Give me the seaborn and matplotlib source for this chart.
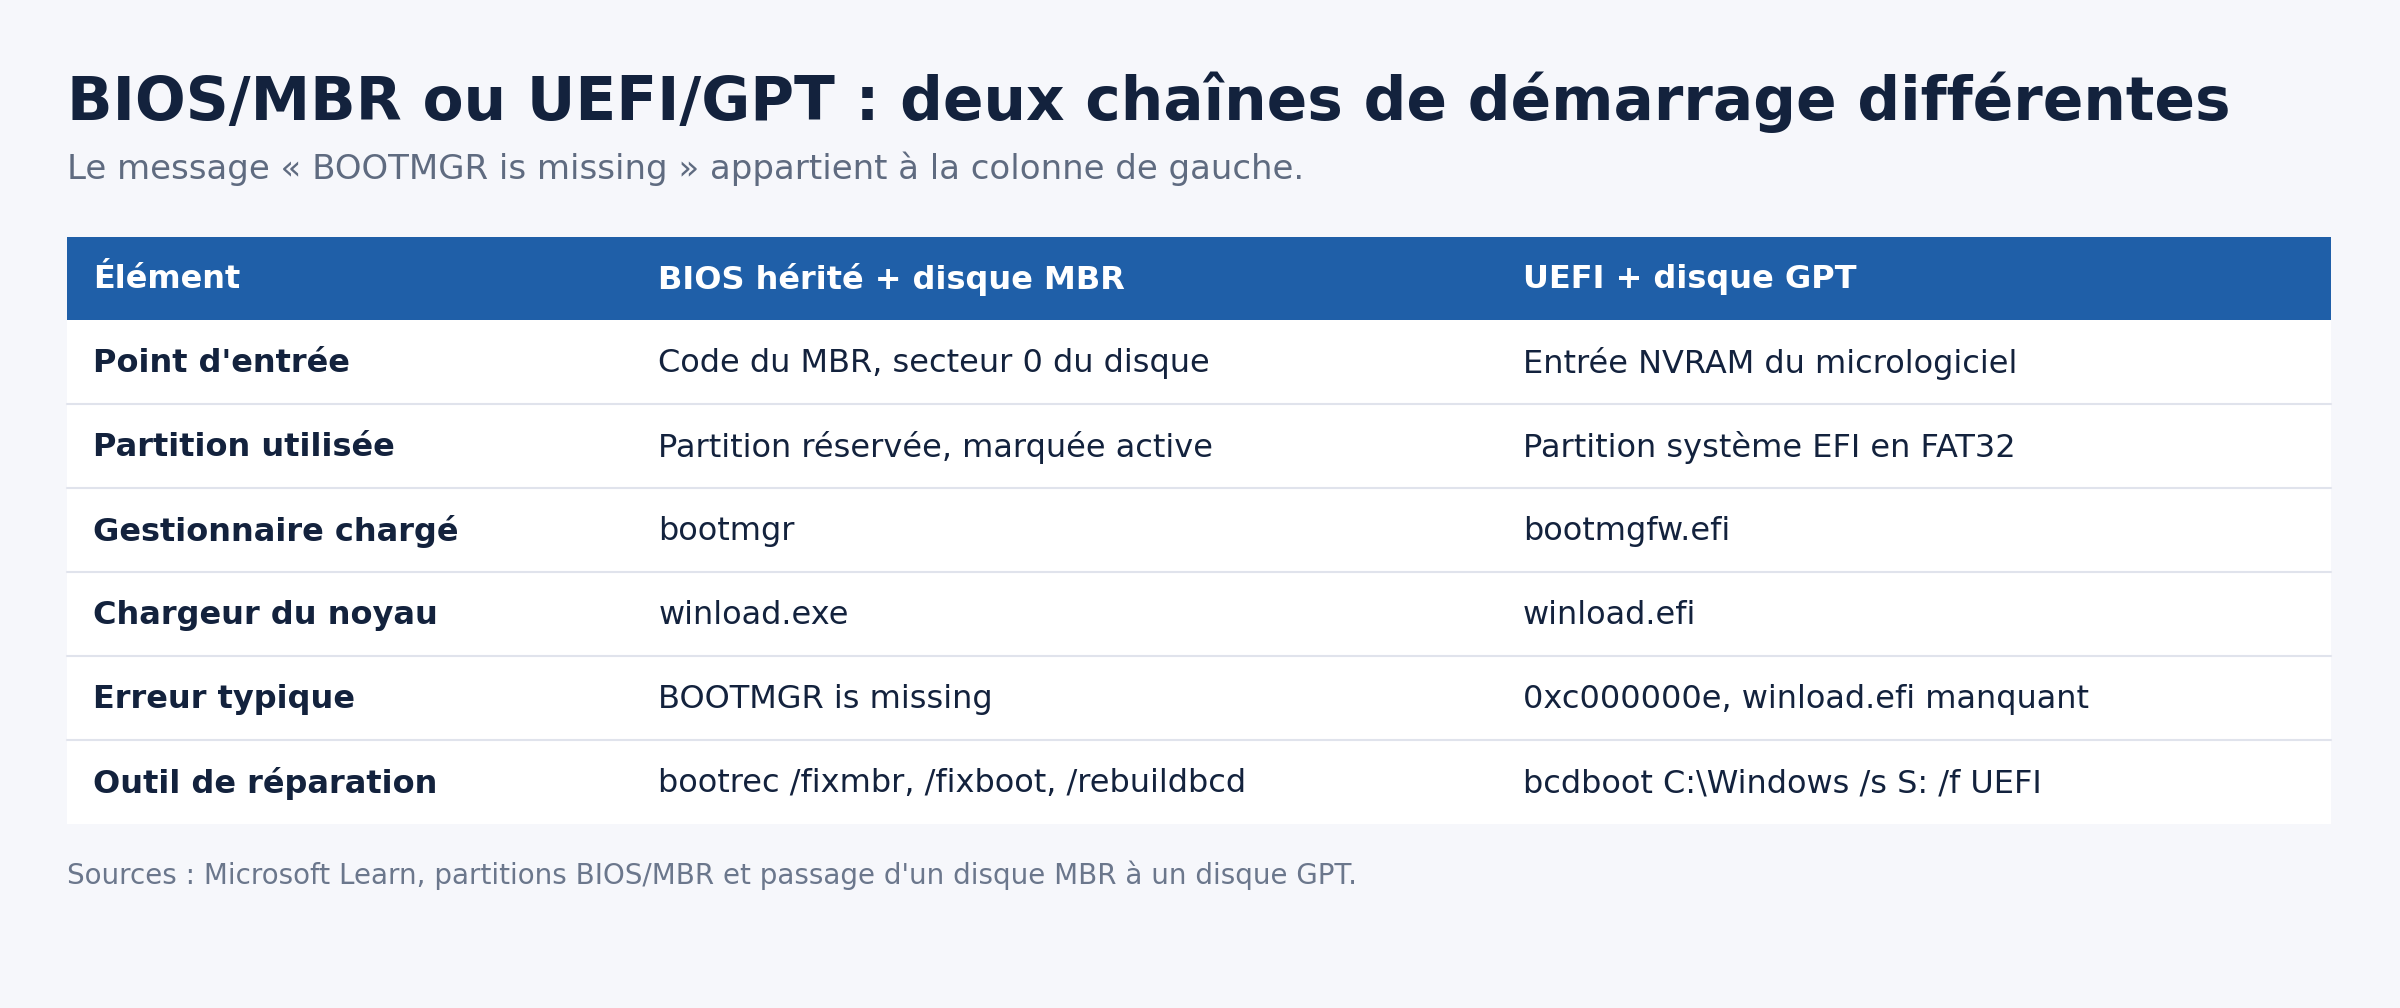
import matplotlib
matplotlib.use("Agg")
import matplotlib.pyplot as plt
import seaborn as sns
from matplotlib.patches import Rectangle

# --- data ---
title = "BIOS/MBR ou UEFI/GPT : deux chaînes de démarrage différentes"
subtitle = "Le message « BOOTMGR is missing » appartient à la colonne de gauche."
source = "Sources : Microsoft Learn, partitions BIOS/MBR et passage d'un disque MBR à un disque GPT."
headers = ["Élément", "BIOS hérité + disque MBR", "UEFI + disque GPT"]
elements = ["Point d'entrée", "Partition utilisée", "Gestionnaire chargé",
            "Chargeur du noyau", "Erreur typique", "Outil de réparation"]
bios_mbr = ["Code du MBR, secteur 0 du disque", "Partition réservée, marquée active",
            "bootmgr", "winload.exe", "BOOTMGR is missing",
            "bootrec /fixmbr, /fixboot, /rebuildbcd"]
uefi_gpt = ["Entrée NVRAM du micrologiciel", "Partition système EFI en FAT32",
            "bootmgfw.efi", "winload.efi", "0xc000000e, winload.efi manquant",
            "bcdboot C:\\Windows /s S: /f UEFI"]

sns.set_theme(style="white")
plt.rcParams['font.family'] = ['DejaVu Sans']

bg = "#f6f7fb"
dark = "#13223d"
grey = "#5f6b80"
blue = "#1f5fa8"

fig = plt.figure(figsize=(24, 10.08), dpi=100, facecolor=bg)
ax = fig.add_axes([0, 0, 1, 1])
ax.set_xlim(0, 1568)
ax.set_ylim(659, 0)
ax.axis("off")

ax.text(44, 67, title, fontsize=43, fontweight="bold", color=dark, va="center")
ax.text(44, 110, subtitle, fontsize=24.5, color=grey, va="center")

left, right = 44, 1523
top, head_h, row_h = 155, 54, 55
col_x = [61, 430, 995]

ax.add_patch(Rectangle((left, top), right - left, head_h, color=blue, lw=0))
for x, h in zip(col_x, headers):
    ax.text(x, top + head_h / 2 + 1, h, fontsize=23, fontweight="bold", color="white", va="center")

for i, (e, b, u) in enumerate(zip(elements, bios_mbr, uefi_gpt)):
    y0 = top + head_h + i * row_h
    ax.add_patch(Rectangle((left, y0), right - left, row_h, color="white", lw=0))
    if i > 0:
        ax.plot([left, right], [y0, y0], color="#e0e3ec", lw=1.5)
    yc = y0 + row_h / 2 + 1
    ax.text(col_x[0], yc, e, fontsize=23, fontweight="bold", color=dark, va="center")
    ax.text(col_x[1], yc, b, fontsize=23, color=dark, va="center")
    ax.text(col_x[2], yc, u, fontsize=23, color=dark, va="center")

ax.text(44, 572, source, fontsize=20, color="#6b778c", va="center")

fig.savefig("out.png", dpi=100, facecolor=bg)
